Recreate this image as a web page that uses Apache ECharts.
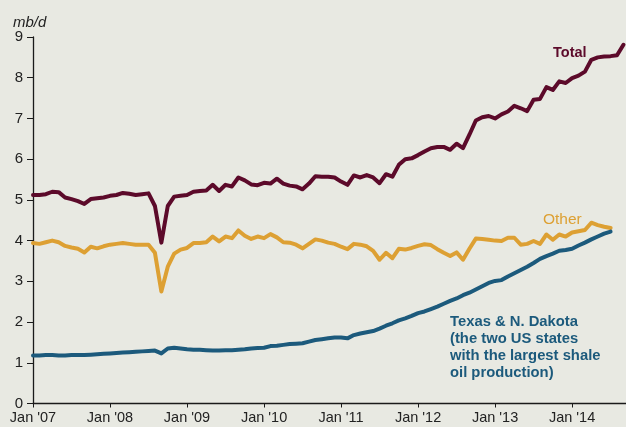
<!DOCTYPE html>
<html>
<head>
<meta charset="utf-8">
<script src="https://cdn.jsdelivr.net/npm/echarts@6/dist/echarts.min.js"></script>
<style>
  html, body { margin: 0; padding: 0; background: #e8e9e2; }
  #chart { width: 626px; height: 427px; }
</style>
</head>
<body>
<div id="chart"></div>
<script>
// monthly values, Jan 2007 onwards (mb/d)
var startYear = 2007;
var total = [
  5.12, 5.12, 5.14, 5.20, 5.19, 5.06, 5.02, 4.97, 4.90, 5.02, 5.04, 5.06,
  5.10, 5.12, 5.17, 5.15, 5.12, 5.14, 5.16, 4.85, 3.95, 4.85, 5.08, 5.10,
  5.12, 5.20, 5.22, 5.23, 5.37, 5.22, 5.37, 5.33, 5.55, 5.48, 5.38, 5.36,
  5.42, 5.40, 5.52, 5.40, 5.35, 5.33, 5.26, 5.40, 5.58, 5.57, 5.57, 5.55,
  5.45, 5.37, 5.60, 5.55, 5.61, 5.55, 5.41, 5.63, 5.57, 5.86, 6.00, 6.02,
  6.10, 6.19, 6.27, 6.30, 6.30, 6.23, 6.38, 6.27, 6.60, 6.95, 7.03, 7.06,
  7.00, 7.10, 7.17, 7.31, 7.25, 7.18, 7.46, 7.48, 7.77, 7.70, 7.91, 7.87,
  7.99, 8.05, 8.15, 8.44, 8.50, 8.52, 8.53, 8.55, 8.81
];
var other = [
  3.94, 3.92, 3.96, 4.00, 3.96, 3.87, 3.83, 3.80, 3.71, 3.85, 3.81, 3.86,
  3.90, 3.92, 3.94, 3.92, 3.90, 3.90, 3.90, 3.70, 2.75, 3.36, 3.68, 3.78,
  3.82, 3.94, 3.94, 3.96, 4.10, 3.98, 4.10, 4.06, 4.25, 4.12, 4.04, 4.10,
  4.06, 4.16, 4.08, 3.96, 3.95, 3.90, 3.81, 3.92, 4.03, 4.00, 3.95, 3.92,
  3.85, 3.79, 3.92, 3.90, 3.86, 3.75, 3.53, 3.70, 3.57, 3.80, 3.78, 3.82,
  3.87, 3.91, 3.89, 3.79, 3.70, 3.62, 3.71, 3.53, 3.80, 4.05, 4.04, 4.02,
  4.00, 3.99, 4.07, 4.07, 3.90, 3.92, 3.99, 3.92, 4.15, 4.02, 4.15, 4.10,
  4.20, 4.23, 4.26, 4.44, 4.38, 4.34, 4.31
];
var texasND = [
  1.18, 1.18, 1.19, 1.19, 1.18, 1.18, 1.19, 1.19, 1.19, 1.20, 1.21, 1.22,
  1.23, 1.24, 1.25, 1.26, 1.27, 1.28, 1.29, 1.30, 1.23, 1.35, 1.37, 1.35,
  1.33, 1.32, 1.32, 1.31, 1.30, 1.30, 1.31, 1.31, 1.32, 1.33, 1.35, 1.36,
  1.37, 1.41, 1.42, 1.44, 1.46, 1.47, 1.48, 1.52, 1.56, 1.58, 1.60, 1.62,
  1.62, 1.60, 1.68, 1.72, 1.75, 1.78, 1.84, 1.91, 1.97, 2.04, 2.09, 2.15,
  2.22, 2.26, 2.32, 2.38, 2.45, 2.52, 2.58, 2.66, 2.72, 2.80, 2.88, 2.96,
  3.01, 3.03, 3.12, 3.20, 3.28, 3.36, 3.45, 3.55, 3.62, 3.68, 3.75, 3.77,
  3.80, 3.88, 3.95, 4.03, 4.10, 4.17, 4.22
];
var yTicks = [0, 1, 2, 3, 4, 5, 6, 7, 8, 9];

// pair each monthly value with its position in years
function monthly(values) {
  return values.map(function (v, i) { return [startYear + i / 12, v]; });
}

var chart = echarts.init(document.getElementById('chart'));
var font = 'Liberation Sans, Arial, sans-serif';

function lineSeries(name, values, color, z) {
  return {
    name: name, type: 'line', data: monthly(values), showSymbol: false, z: z,
    lineStyle: { color: color, width: 4, join: 'round', cap: 'round' }
  };
}

chart.setOption({
  backgroundColor: '#e8e9e2',
  animation: false,
  grid: { left: 33, right: 0, top: 37, bottom: 23.5 },
  xAxis: {
    type: 'value',
    min: 2007,
    max: 2014.7,
    interval: 1,
    splitLine: { show: false },
    axisLine: { lineStyle: { color: '#1a1a1a', width: 1.3 } },
    axisTick: { length: 4, lineStyle: { color: '#1a1a1a' } },
    axisLabel: {
      fontFamily: font, fontSize: 14.5, color: '#222', margin: 7,
      showMaxLabel: false,
      formatter: function (v) {
        return v % 1 === 0 ? "Jan '" + String(v).slice(2) : '';
      }
    }
  },
  yAxis: {
    type: 'value',
    min: yTicks[0],
    max: yTicks[yTicks.length - 1],
    interval: 1,
    splitLine: { show: false },
    axisLine: { show: true, lineStyle: { color: '#1a1a1a', width: 1.3 } },
    axisTick: { show: true, length: 6, lineStyle: { color: '#1a1a1a' } },
    axisLabel: { fontFamily: font, fontSize: 15, color: '#222', margin: 10 }
  },
  series: [
    lineSeries('Total', total, '#5c0a2a', 3),
    lineSeries('Other', other, '#dda033', 2),
    lineSeries('Texas & N. Dakota', texasND, '#1c5a7c', 2)
  ],
  graphic: [
    {
      type: 'text', left: 13, top: 15,
      style: { text: 'mb/d', fontFamily: font, fontSize: 15, fontStyle: 'italic', fill: '#222' }
    },
    {
      type: 'text', left: 553, top: 45,
      style: { text: 'Total', fontFamily: font, fontSize: 14.5, fontWeight: 'bold', fill: '#5c0a2a' }
    },
    {
      type: 'text', left: 543, top: 212,
      style: { text: 'Other', fontFamily: font, fontSize: 15.5, fill: '#dda033' }
    },
    {
      type: 'text', left: 450, top: 314,
      style: {
        text: 'Texas & N. Dakota\n(the two US states\nwith the largest shale\noil production)',
        fontFamily: font, fontSize: 14.8, fontWeight: 'bold', lineHeight: 16.8, fill: '#1c5a7c'
      }
    }
  ]
});
</script>
</body>
</html>
